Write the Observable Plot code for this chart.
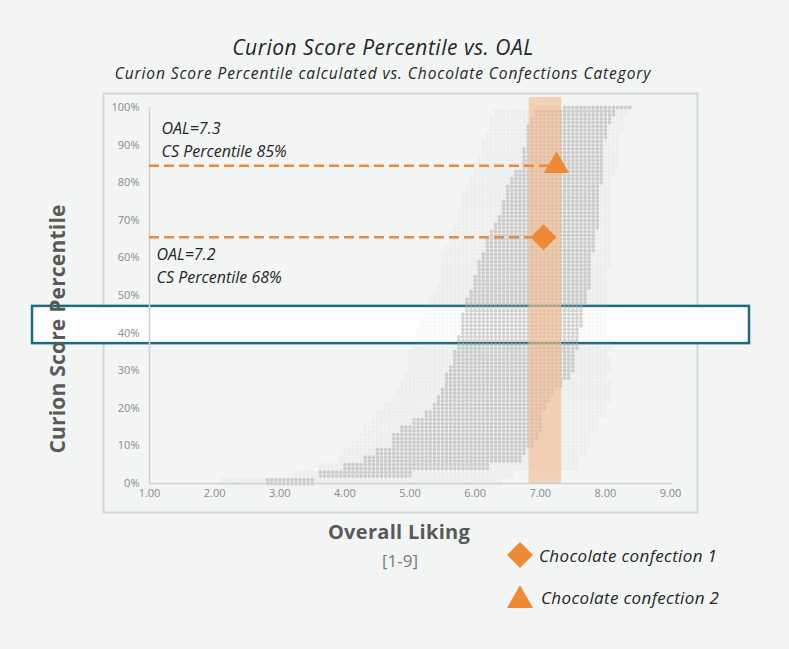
<!DOCTYPE html>
<html><head><meta charset="utf-8">
<script src="https://cdn.jsdelivr.net/npm/d3@7"></script>
<script src="https://cdn.jsdelivr.net/npm/@observablehq/plot@0.6"></script>
<style>
body{margin:0;background:#f2f5f4;font-family:"Open Sans",sans-serif;}
#wrap{position:relative;width:789px;height:649px;overflow:hidden;background:#f2f5f4;}
#chart{position:absolute;left:0;top:0;}
.t{position:absolute;white-space:nowrap;line-height:1;}
</style></head><body>
<div id="wrap">
  <div id="chart"></div>
  <div class="t" style="left:0;width:766px;text-align:center;top:37px;font-size:21px;letter-spacing:0.5px;font-style:italic;color:#262626;">Curion Score Percentile vs. OAL</div>
  <div class="t" style="left:0;width:766px;text-align:center;top:66px;font-size:15.5px;letter-spacing:0.9px;font-style:italic;color:#262626;">Curion Score Percentile calculated vs. Chocolate Confections Category</div>
  <div class="t" style="left:57px;top:329px;transform:translate(-50%,-50%) rotate(-90deg);font-size:21px;font-weight:700;letter-spacing:0.2px;color:#595959;">Curion Score Percentile</div>
  <div class="t" style="left:399px;top:532px;transform:translate(-50%,-50%);font-size:20px;font-weight:700;letter-spacing:0.3px;color:#595959;">Overall Liking</div>
  <div class="t" style="left:400px;top:560px;transform:translate(-50%,-50%);font-size:17px;color:#7a7a7a;">[1-9]</div>
  <div id="legend"></div>
</div>
<script>
// ---- data ----
const xTicks = [1, 2, 3, 4, 5, 6, 7, 8, 9];
const yTicks = [0, 10, 20, 30, 40, 50, 60, 70, 80, 90, 100];

// scatter cloud, read row by row (percentile rows, 2% apart): dense core and sparse fringe extents in OAL
const pctRows = [0,2,4,6,8,10,12,14,16,18,20,22,24,26,28,30,32,34,36,38,40,42,44,46,48,50,52,54,56,58,60,62,64,66,68,70,72,74,76,78,80,82,84,86,88,90,92,94,96,98,100];
const coreLo = [2.8,3.6,4.0,4.3,4.5,4.7,4.75,4.85,5.05,5.25,5.35,5.42,5.48,5.52,5.55,5.6,5.65,5.68,5.72,5.75,5.77,5.78,5.8,5.82,5.85,5.9,5.95,6.0,6.02,6.06,6.1,6.15,6.18,6.22,6.27,6.33,6.38,6.42,6.45,6.5,6.55,6.62,6.7,6.72,6.74,6.76,6.78,6.8,6.85,6.9,7.35];
const coreHi = [3.5,5.0,6.2,6.7,6.8,6.9,6.95,7.0,7.0,7.05,7.1,7.15,7.2,7.35,7.45,7.5,7.55,7.55,7.58,7.6,7.62,7.65,7.65,7.68,7.7,7.72,7.75,7.75,7.78,7.8,7.8,7.82,7.85,7.87,7.9,7.9,7.92,7.92,7.93,7.93,7.95,7.95,7.95,7.95,7.95,7.95,8.0,8.05,8.1,8.15,8.4];
const haloLo = [2.1,3.2,3.6,3.9,4.0,4.1,4.2,4.3,4.4,4.5,4.6,4.7,4.8,4.85,4.9,4.95,5.0,5.0,5.05,5.1,5.1,5.15,5.2,5.25,5.3,5.35,5.4,5.45,5.5,5.5,5.5,5.55,5.6,5.6,5.65,5.7,5.75,5.8,5.8,5.85,5.9,5.95,6.0,6.05,6.1,6.1,6.15,6.2,6.25,6.3,6.9];
const haloHi = [6.4,6.6,7.6,7.6,7.7,7.8,7.8,7.9,7.9,8.0,8.0,8.1,8.1,8.1,8.0,8.1,8.1,8.0,8.1,8.1,8.0,8.0,8.0,8.0,8.0,8.05,8.05,8.05,8.05,8.1,8.1,8.1,8.1,8.1,8.1,8.1,8.1,8.1,8.1,8.1,8.1,8.15,8.2,8.2,8.2,8.2,8.2,8.25,8.3,8.35,8.4];

// highlighted OAL band and percentile band
const bandOAL = [6.83, 7.33];
const bandPct = [37.2, 47.1];

// products
const productNames = ["Chocolate confection 1", "Chocolate confection 2"];
const productOAL = [7.05, 7.25];
const productPct = [65.5, 84.5];
const productSymbol = ["square", "triangle"];
const labelLine1 = ["OAL=7.2", "OAL=7.3"];
const labelLine2 = ["CS Percentile 68%", "CS Percentile 85%"];

// ---- build ----
const step = 1 / 16;
const core = [], halo = [];
pctRows.forEach((p, i) => {
  const ys = p < 100 ? [p, p + 1] : [p];
  for (const y of ys) {
    for (let k = Math.ceil((haloLo[i] - 1) / step - 1e-9); 1 + k * step <= haloHi[i] + 1e-9; k++) {
      const x = 1 + k * step;
      if (x >= coreLo[i] && x <= coreHi[i]) core.push({x, y}); else halo.push({x, y});
    }
  }
});
const products = productNames.map((n, i) => ({name: n, oal: productOAL[i], pct: productPct[i], symbol: productSymbol[i], l1: labelLine1[i], l2: labelLine2[i]}));
const orange = "#ee8936";
const annFont = {fontSize: 16, fontStyle: "italic", fill: "#262626", textAnchor: "start", letterSpacing: "0.8px"};

const tri = products.filter(d => d.symbol === "triangle");
const dia = products.filter(d => d.symbol === "square");

const plot = Plot.plot({
  width: 789, height: 649,
  marginLeft: 149, marginRight: 119, marginTop: 107, marginBottom: 166,
  style: {background: "transparent", fontFamily: "Open Sans", overflow: "visible"},
  x: {domain: [1, 9], axis: null},
  y: {domain: [0, 100], axis: null},
  marks: [
    Plot.frame({stroke: "#d3d6d5", strokeWidth: 2, insetLeft: -46, insetRight: -27, insetTop: -14, insetBottom: -29}),
    Plot.rect([bandPct], {x1: 1, x2: 9, y1: d => d[0], y2: d => d[1], insetLeft: -117, insetRight: -79, fill: "white", stroke: "#1d6a83", strokeWidth: 2.5}),
    Plot.dot(halo, {x: "x", y: "y", r: 1.9, fill: "#b0b0b0", fillOpacity: 0.09}),
    Plot.dot(core, {x: "x", y: "y", r: 1.9, fill: "#b0b0b0", fillOpacity: 0.58}),
    Plot.rect([bandOAL], {x1: d => d[0], x2: d => d[1], y1: 0, y2: 100, insetTop: -10, fill: "#f4b98a", fillOpacity: 0.6}),
    Plot.ruleX([1], {y1: 0, y2: 100, stroke: "#d0d0d0", strokeWidth: 1.5}),
    Plot.ruleY([0], {x1: 1, x2: 9.03, stroke: "#d0d0d0", strokeWidth: 1.5}),
    Plot.axisX({ticks: xTicks, tickFormat: d3.format(".2f"), tickSize: 0, tickPadding: 6, fontSize: 11, color: "#8a8a8a", label: null}),
    Plot.axisY({ticks: yTicks, tickFormat: d => d + "%", tickSize: 0, tickPadding: 10, fontSize: 11, color: "#8a8a8a", label: null}),
    Plot.ruleY(products, {y: "pct", x1: 1, x2: "oal", stroke: orange, strokeWidth: 2.5, strokeDasharray: "10,5"}),
    Plot.dot(dia, {x: "oal", y: "pct", symbol: "square", rotate: 45, r: 10.3, fill: orange, stroke: "none"}),
    Plot.dot(tri, {x: "oal", y: "pct", symbol: "triangle", r: 9.3, fill: orange, stroke: "none"}),
    Plot.text(tri, {x: 1, y: "pct", text: "l1", dx: 12, dy: -37, ...annFont}),
    Plot.text(tri, {x: 1, y: "pct", text: "l2", dx: 12, dy: -14, ...annFont}),
    Plot.text(dia, {x: 1, y: "pct", text: "l1", dx: 7, dy: 18, ...annFont}),
    Plot.text(dia, {x: 1, y: "pct", text: "l2", dx: 7, dy: 41, ...annFont})
  ]
});
document.getElementById("chart").appendChild(plot);

// legend
const legend = document.getElementById("legend");
const legendTops = [555, 597];
products.forEach((p, i) => {
  const row = document.createElement("div");
  row.className = "t";
  row.style.cssText = `left:505px;top:${legendTops[i]}px;transform:translateY(-50%);display:flex;align-items:center;font-size:17px;letter-spacing:0.35px;font-style:italic;color:#262626;`;
  const shape = p.symbol === "square"
    ? `<svg width="30" height="28" viewBox="-15 -14 30 28"><polygon points="0,-13 13,0 0,13 -13,0" fill="${orange}"/></svg>`
    : `<svg width="30" height="28" viewBox="-15 -14 30 28"><polygon points="0,-12 13,11 -13,11" fill="${orange}"/></svg>`;
  row.innerHTML = shape + `<span style="margin-left:${i ? 6 : 4}px">${p.name}</span>`;
  legend.appendChild(row);
});
</script>
</body></html>
